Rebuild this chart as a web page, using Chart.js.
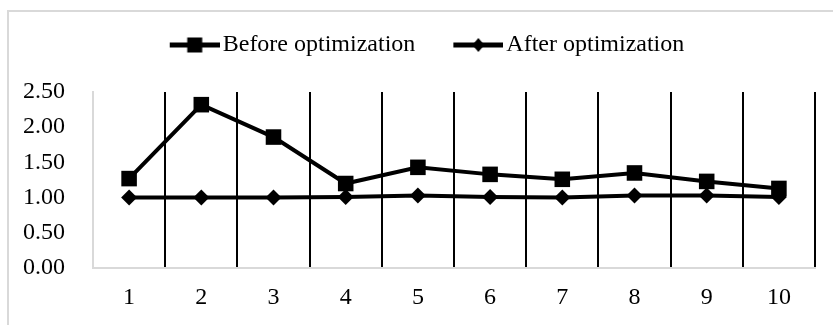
<!DOCTYPE html>
<html>
<head>
<meta charset="utf-8">
<script src="https://cdn.jsdelivr.net/npm/chart.js@4"></script>
<style>
  body { margin: 0; background: #fff; }
  #wrap { position: relative; width: 833px; height: 325px; overflow: hidden; }
  #frame { position: absolute; left: 7px; top: 10px; width: 840px; height: 330px; border: 2px solid #d9d9d9; }
  #myChart { position: absolute; left: 0; top: 0; }
</style>
</head>
<body>
<div id="wrap">
  <div id="frame"></div>
  <canvas id="myChart" width="833" height="325"></canvas>
</div>
<script>
const labels = ['1', '2', '3', '4', '5', '6', '7', '8', '9', '10'];
const beforeOpt = [1.27, 2.32, 1.86, 1.20, 1.43, 1.33, 1.26, 1.35, 1.23, 1.13];
const afterOpt = [1.00, 1.00, 1.00, 1.01, 1.03, 1.01, 1.00, 1.03, 1.03, 1.01];
const seriesNames = ['Before optimization', 'After optimization'];
const yTicks = [0, 0.5, 1, 1.5, 2, 2.5];

const FONT = "'Liberation Serif', 'Times New Roman', serif";

// legend icon: line with the marker in the middle, transparent space on the left
function makeIcon(style) {
    const c = document.createElement('canvas');
    c.width = 87;
    c.height = 20;
    const g = c.getContext('2d');
    g.strokeStyle = '#000';
    g.fillStyle = '#000';
    g.lineWidth = 5;
    g.beginPath();
    g.moveTo(37, 10);
    g.lineTo(87, 10);
    g.stroke();
    if (style === 'square') {
        g.fillRect(62 - 7.5, 10 - 7.5, 15, 15);
    } else {
        g.beginPath();
        g.moveTo(62 - 6, 10);
        g.lineTo(62, 10 - 7);
        g.lineTo(62 + 6, 10);
        g.lineTo(62, 10 + 7);
        g.closePath();
        g.fill();
    }
    return c;
}
const icons = [makeIcon('square'), makeIcon('diamond')];

const legendGap = {
    id: 'legendGap',
    beforeInit(chart) {
        const fit = chart.legend.fit;
        chart.legend.fit = function() {
            fit.bind(chart.legend)();
            this.height += 25;
        };
    }
};

const data = {
    labels: labels,
    datasets: [
    {
        label: seriesNames[0],
        data: beforeOpt,
        borderColor: '#000',
        backgroundColor: '#000',
        borderWidth: 4,
        tension: 0,
        pointStyle: 'rect',
        pointRadius: 11,
        pointBorderWidth: 0,
        pointBackgroundColor: '#000',
    },
    {
        label: seriesNames[1],
        data: afterOpt,
        borderColor: '#000',
        backgroundColor: '#000',
        borderWidth: 4,
        tension: 0,
        pointStyle: 'rectRot',
        pointRadius: 8,
        pointBorderWidth: 0,
        pointBackgroundColor: '#000',
    }
    ]
};

const config = {
    type: 'line',
    data: data,
    plugins: [legendGap],
    options: {
        responsive: false,
        animation: false,
        layout: {
            padding: { left: 11, right: 18, top: 23, bottom: 0 }
        },
        plugins: {
            legend: {
                display: true,
                position: 'top',
                labels: {
                    usePointStyle: true,
                    pointStyleWidth: 69,
                    padding: 10,
                    color: '#000',
                    font: { family: FONT, size: 24 },
                    generateLabels: function(chart) {
                        const items = Chart.defaults.plugins.legend.labels.generateLabels(chart);
                        items.forEach((it, i) => { it.pointStyle = icons[i]; });
                        return items;
                    }
                }
            },
            tooltip: { enabled: false }
        },
        scales: {
            x: {
                offset: true,
                afterFit: (s) => { s.height = 57; },
                grid: {
                    display: true,
                    offset: true,
                    drawTicks: false,
                    lineWidth: 2,
                    color: (c) => c.index === 0 ? 'rgba(0,0,0,0)' : '#000'
                },
                border: { display: true, color: '#d9d9d9', width: 2 },
                ticks: {
                    padding: 15,
                    color: '#000',
                    font: { family: FONT, size: 24 },
                    maxRotation: 0
                }
            },
            y: {
                min: yTicks[0],
                max: yTicks[yTicks.length - 1],
                afterFit: (s) => { s.width = 82; },
                afterBuildTicks: (s) => { s.ticks = yTicks.map(v => ({ value: v })); },
                grid: { display: false, drawTicks: false },
                border: { display: true, color: '#d9d9d9', width: 2 },
                ticks: {
                    padding: 28,
                    color: '#000',
                    font: { family: FONT, size: 24 },
                    callback: (v) => Number(v).toFixed(2)
                }
            }
        }
    }
};

window.onload = function() {
    const ctx = document.getElementById('myChart').getContext('2d');
    new Chart(ctx, config);
};
</script>
</body>
</html>
